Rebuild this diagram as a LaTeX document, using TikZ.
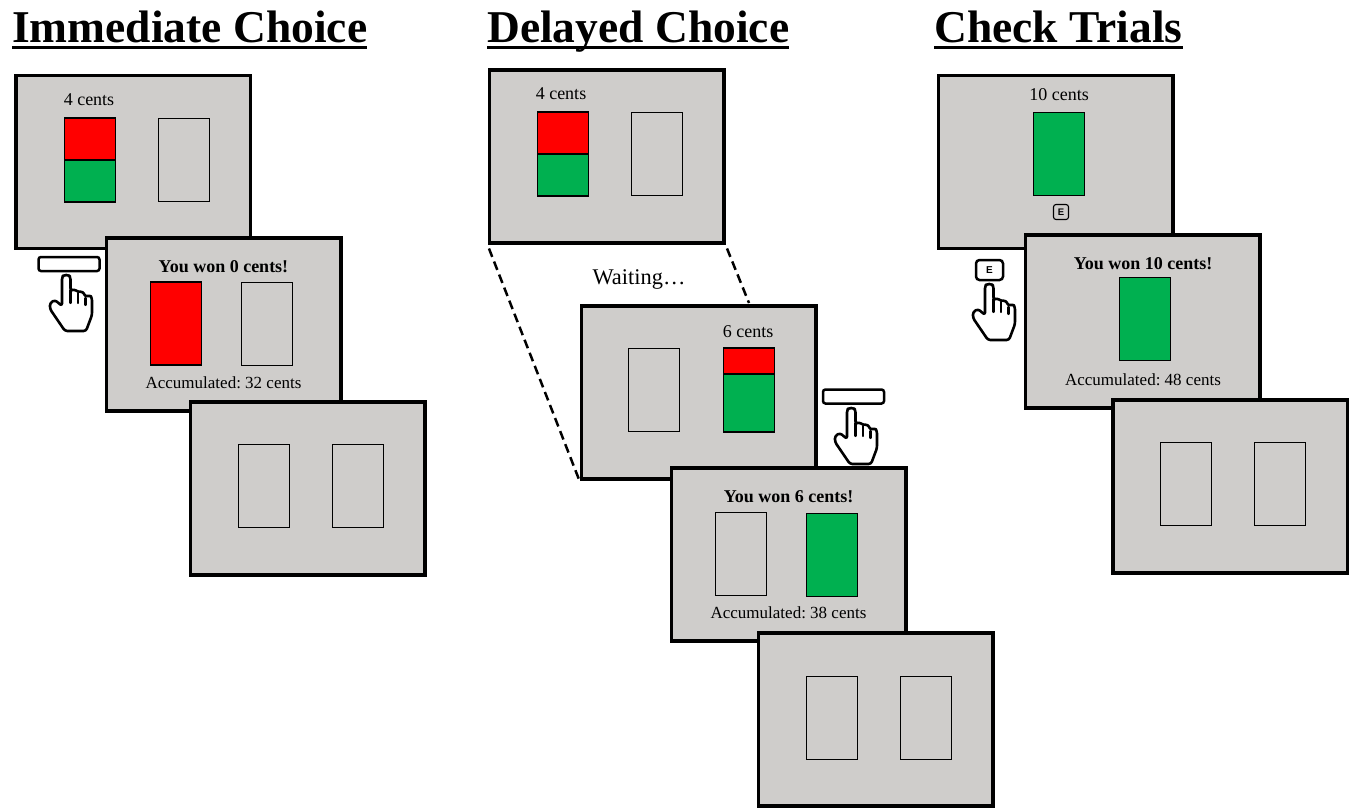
\documentclass[tikz,border=0pt]{standalone}
\usepackage{fontspec}
\setmainfont{Liberation Serif}
\newfontfamily\keyfont{Liberation Sans}
\usepackage{tikz}
\definecolor{screengray}{HTML}{CFCDCB}
\definecolor{cardred}{HTML}{FF0000}
\definecolor{cardgreen}{HTML}{00B050}
\tikzset{
  screen/.style={draw,fill=screengray,line width=3.5pt,minimum width=234.5pt,minimum height=173pt,inner sep=0pt},
  card/.style={draw,line width=1.5pt,minimum width=51pt,minimum height=83pt,inner sep=0pt},
  redcard/.style={card,fill=cardred},
  greencard/.style={card,fill=cardgreen},
  spacebar/.style={draw,fill=white,line width=2.5pt,rounded corners=2.5pt,minimum width=61pt,minimum height=14pt,inner sep=0pt},
  bigkey/.style={draw,fill=white,line width=2.5pt,rounded corners=3.5pt,minimum width=27pt,minimum height=20pt,inner sep=0pt,font=\keyfont\bfseries\fontsize{10}{10}\selectfont},
  smallkey/.style={draw,line width=1.1pt,rounded corners=2.5pt,minimum width=15pt,minimum height=15pt,inner sep=0pt,font=\keyfont\bfseries\fontsize{9.5}{10}\selectfont},
  titletext/.style={anchor=base west,inner sep=0pt,font=\bfseries\fontsize{45.5}{50}\selectfont},
  smalltext/.style={inner sep=0pt,font=\fontsize{18}{20}\selectfont},
  acctext/.style={inner sep=0pt,font=\frenchspacing\fontsize{17}{20}\selectfont},
  boldtext/.style={inner sep=0pt,font=\bfseries\fontsize{18}{20}\selectfont},
  waitline/.style={dashed,line width=2.5pt,dash pattern=on 9pt off 5pt,shorten <=4pt},
  hand/.pic={
    \draw[fill=white,line width=2.6pt,line join=round,rounded corners=2.5pt]
      (-4,30) -- (-4,1) -- (-2,-1) -- (2.5,-1) -- (4.5,1) -- (4.5,15) -- (8,13) -- (12,16) -- (17,15.5)
      -- (19.5,21) -- (24,19) -- (26,22) -- (26,39) -- (20,55) -- (-1,55) -- (-16,33) -- (-16,27) -- (-11,24) -- cycle;
    \draw[line width=2.2pt,line cap=round] (4.5,14) -- (4.5,27) (12,17) -- (12,27) (19.5,22) -- (19.5,29);
  }
}

\begin{document}
\begin{tikzpicture}[x=1pt,y=-1pt]
  \useasboundingbox (0,0) rectangle (1354,807);
  % titles
  \foreach \name/\x/\label in {imm/12/Immediate Choice,del/487/Delayed Choice,chk/934/Check Trials}{
    \node[titletext] (title-\name) at (\x,42) {\label};
    \draw[line width=3pt] ([yshift=-5pt]title-\name.base west) -- ([yshift=-5pt]title-\name.base east);
  }
  % screens
  \foreach \name/\x/\y in {imm-a/133/162,imm-b/223.5/324.5,imm-c/307.5/488.5,
                           del-a/606.5/156.5,del-b/698.5/392.5,del-c/788.5/554.5,del-d/875.5/719.5,
                           chk-a/1055.5/162,chk-b/1142.5/321.5,chk-c/1230/486.5}{
    \node[screen] (\name) at (\x,\y) {};
  }
  % empty cards
  \foreach \name/\x/\y in {imm-a1/184/160,imm-b1/267/324,imm-c1/264/486,imm-c2/358/486,
                           del-a1/657/154,del-b1/654/390,del-c1/741/554,del-d1/832/718,del-d2/926/718,
                           chk-c1/1186/484,chk-c2/1280/484}{
    \node[card] (\name) at (\x,\y) {};
  }
  % full cards
  \node[redcard] (imm-b2) at (176,323.5) {};
  \node[greencard] (del-c2) at (832,555) {};
  \node[greencard] (chk-a1) at (1059,154) {};
  \node[greencard] (chk-b1) at (1145,319) {};
  % split cards
  \node[redcard,minimum height=42pt] (imm-a2) at (90,139) {};
  \node[greencard,minimum height=42pt] (imm-a3) at (90,181) {};
  \node[redcard,minimum height=42pt] (del-a2) at (563,133) {};
  \node[greencard,minimum height=42pt] (del-a3) at (563,175) {};
  \node[redcard,minimum height=26pt] (del-b2) at (749,361) {};
  \node[greencard,minimum height=58pt] (del-b3) at (749,403) {};
  % labels
  \node[smalltext] (imm-a-lab) at (89,100) {4 cents};
  \node[boldtext] (imm-b-won) at (223.5,267) {You won 0 cents!};
  \node[acctext] (imm-b-acc) at (223.5,383) {Accumulated: 32 cents};
  \node[smalltext] (del-a-lab) at (561,94) {4 cents};
  \node[smalltext] (del-b-lab) at (748,332) {6 cents};
  \node[boldtext] (del-c-won) at (788.5,497) {You won 6 cents!};
  \node[acctext] (del-c-acc) at (788.5,613) {Accumulated: 38 cents};
  \node[smalltext] (chk-a-lab) at (1059,95) {10 cents};
  \node[boldtext] (chk-b-won) at (1143,264) {You won 10 cents!};
  \node[acctext] (chk-b-acc) at (1143,380) {Accumulated: 48 cents};
  \node[inner sep=0pt,font=\fontsize{22.4}{24}\selectfont] (waiting) at (639,279) {Waiting…};
  % waiting lines
  \coordinate (del-b-top) at (749,303);
  \draw[waitline] (del-a.south west) -- (del-b.south west);
  \draw[waitline] (del-a.south east) -- (del-b-top);
  % keys and hands
  \node[spacebar] (imm-bar) at (69,264) {};
  \node[spacebar] (del-bar) at (853.5,396.5) {};
  \node[smallkey] (chk-key-a) at (1061,212) {E};
  \node[bigkey] (chk-key-b) at (989.5,270) {E};
  \pic at (66,276) {hand};
  \pic at (851,409) {hand};
  \pic at (989,285) {hand};
\end{tikzpicture}
\end{document}
